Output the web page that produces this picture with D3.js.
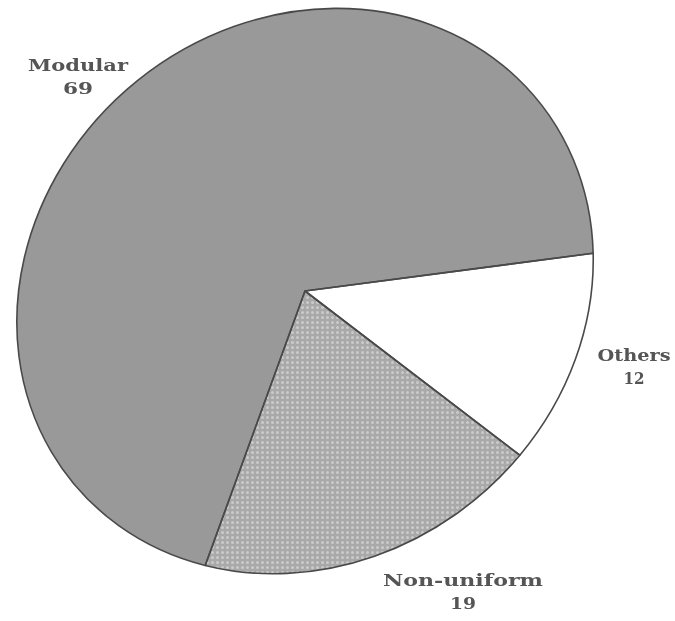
<!DOCTYPE html>
<html>
<head>
<meta charset="utf-8">
<script src="https://cdn.jsdelivr.net/npm/d3@7"></script>
<style>
  html, body { margin: 0; padding: 0; background: #fff; }
  svg { display: block; }
  .lbl { font-family: "DejaVu Serif", "Liberation Serif", serif; font-weight: bold; font-size: 16px; fill: #555555; }
</style>
</head>
<body>
<svg id="chart" width="675" height="621"></svg>
<script>
// Share of designs by type (percent)
const categories = ["Others", "Non-uniform", "Modular"];
const values = [12, 19, 69];
const fills = ["#ffffff", "#b3b3b3", "#999999"];

const W = 675, H = 621;
const svg = d3.select("#chart");

// The disc is drawn as a slightly tilted ellipse
const cx = 305, cy = 291, rx = 301, ry = 269, tilt = -40;
const startDeg = 125.5;

const pie = d3.pie().sort(null).value(d => d.value)
  .startAngle(startDeg * Math.PI / 180)
  .endAngle((startDeg + 360) * Math.PI / 180);
const arcs = pie(categories.map((c, i) => ({ name: c, value: values[i], fill: fills[i] })));
const arc = d3.arc().innerRadius(0).outerRadius(1);
const discTransform = `translate(${cx},${cy}) rotate(${tilt}) scale(${rx},${ry})`;

const defs = svg.append("defs");
// halftone screen for the Non-uniform slice
const pat = defs.append("pattern").attr("id", "dots")
  .attr("patternUnits", "userSpaceOnUse").attr("width", 5).attr("height", 5);
pat.append("rect").attr("width", 5).attr("height", 5).attr("fill", "#a9a9a9");
pat.append("circle").attr("cx", 2.5).attr("cy", 2.5).attr("r", 1.5).attr("fill", "#cbcbcb");

defs.append("clipPath").attr("id", "nu-clip")
  .append("path")
  .attr("transform", discTransform)
  .attr("d", arc(arcs[1]));

const blur = defs.append("filter").attr("id", "soft");
blur.append("feGaussianBlur").attr("stdDeviation", 0.6);

const g = svg.append("g").attr("filter", "url(#soft)");

// solid fills
g.append("g").attr("transform", discTransform)
  .selectAll("path").data(arcs).join("path")
  .attr("d", arc)
  .attr("fill", d => d.data.fill);

// texture over Non-uniform
g.append("rect").attr("x", 0).attr("y", 0).attr("width", W).attr("height", H)
  .attr("fill", "url(#dots)").attr("clip-path", "url(#nu-clip)");

// outlines
g.append("g").attr("transform", discTransform)
  .selectAll("path").data(arcs).join("path")
  .attr("d", arc)
  .attr("fill", "none")
  .attr("stroke", "#4a4a4a")
  .attr("stroke-width", 1.6)
  .attr("vector-effect", "non-scaling-stroke")
  .attr("stroke-linejoin", "round");

// labels
const labels = [
  { name: "Modular", x: 78, y: 71, w: 100, nw: 30 },
  { name: "Others", x: 634, y: 361, w: 73, nw: 21 },
  { name: "Non-uniform", x: 463, y: 586, w: 160, nw: 26 }
];
const lg = svg.append("g").attr("filter", "url(#soft)");
labels.forEach(l => {
  const i = categories.indexOf(l.name);
  lg.append("text").attr("class", "lbl")
    .attr("x", l.x).attr("y", l.y).attr("text-anchor", "middle")
    .attr("textLength", l.w).attr("lengthAdjust", "spacingAndGlyphs")
    .text(l.name);
  lg.append("text").attr("class", "lbl")
    .attr("x", l.x).attr("y", l.y + 23).attr("text-anchor", "middle")
    .attr("textLength", l.nw).attr("lengthAdjust", "spacingAndGlyphs")
    .text(values[i]);
});
</script>
</body>
</html>
